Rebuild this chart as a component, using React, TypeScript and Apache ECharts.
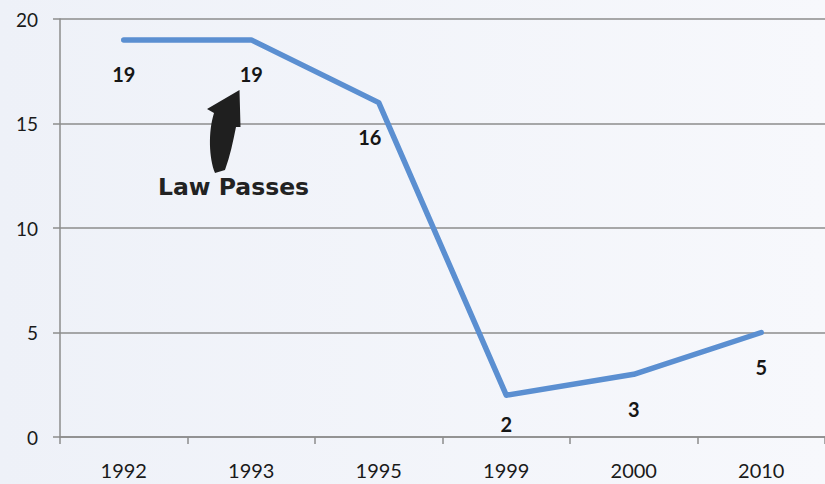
import React, { useEffect, useRef } from "react";
import * as echarts from "echarts";

const years = ["1992", "1993", "1995", "1999", "2000", "2010"];
const values = [19, 19, 16, 2, 3, 5];
const yTicks = { min: 0, max: 20, interval: 5 };
const annotationText = "Law Passes";

const ARROW_D =
  "M 239.5 90 L 240.5 127 L 236 127 C 233 142 230 156 225 170 L 215 173 C 209 158 208 132 214 113 L 207 109 Z";

let registered = false;
function registerArrow() {
  if (registered) return;
  echarts.graphic.registerShape("lawArrow", echarts.graphic.extendPath(ARROW_D, {}) as any);
  registered = true;
}

export default function App() {
  const ref = useRef<HTMLDivElement>(null);
  useEffect(() => {
    document.body.style.margin = "0";
    registerArrow();
    const chart = echarts.init(ref.current!, undefined, { renderer: "svg" });
    const axisColor = "#8c8c8c";
    const labelOffsets: Record<number, number[]> = { 2: [-9, 0], 3: [0, -6] };
    chart.setOption({
      animation: false,
      backgroundColor: {
        type: "linear",
        x: 0,
        y: 0,
        x2: 1,
        y2: 0,
        colorStops: [
          { offset: 0, color: "#eef1f8" },
          { offset: 1, color: "#f7f8fc" },
        ],
      },
      grid: { left: 60, top: 19, width: 768, height: 418 },
      xAxis: {
        type: "category",
        data: years,
        boundaryGap: true,
        axisLine: { show: true, lineStyle: { color: axisColor, width: 1.5 } },
        axisTick: { show: true, length: 7, lineStyle: { color: axisColor, width: 1.5 } },
        axisLabel: { margin: 23, fontSize: 20, color: "#1a1a1a", fontFamily: "Lato" },
        splitLine: { show: false },
      },
      yAxis: {
        type: "value",
        min: yTicks.min,
        max: yTicks.max,
        interval: yTicks.interval,
        axisLine: { show: true, lineStyle: { color: axisColor, width: 1.5 } },
        axisTick: { show: true, length: 7, lineStyle: { color: axisColor, width: 1.5 } },
        axisLabel: { margin: 22, fontSize: 19, color: "#1a1a1a", fontFamily: "Lato" },
        splitLine: { show: true, lineStyle: { color: axisColor, width: 1.5 } },
      },
      series: [
        {
          type: "line",
          data: values.map((v, i) =>
            labelOffsets[i] ? { value: v, label: { offset: labelOffsets[i] } } : v
          ),
          showSymbol: true,
          symbol: "circle",
          symbolSize: 1,
          itemStyle: { color: "rgba(0,0,0,0)" },
          lineStyle: { color: "#5b8fd1", width: 5.5, cap: "round", join: "round" },
          label: {
            show: true,
            position: "bottom",
            distance: 24,
            fontSize: 20,
            fontWeight: "bold",
            fontFamily: "Lato",
            color: "#161616",
          },
        },
      ],
      graphic: [
        {
          type: "lawArrow",
          x: 0,
          y: 0,
          style: { fill: "#1f1f1f" },
          z: 100,
        },
        {
          type: "text",
          left: 158,
          top: 175,
          z: 100,
          style: {
            text: annotationText,
            fontSize: 23.5,
            fontWeight: "bold",
            fontFamily: "DejaVu Sans",
            fill: "#222222",
          },
        },
      ],
    });
    return () => chart.dispose();
  }, []);
  return <div ref={ref} style={{ width: 825, height: 484 }} />;
}
